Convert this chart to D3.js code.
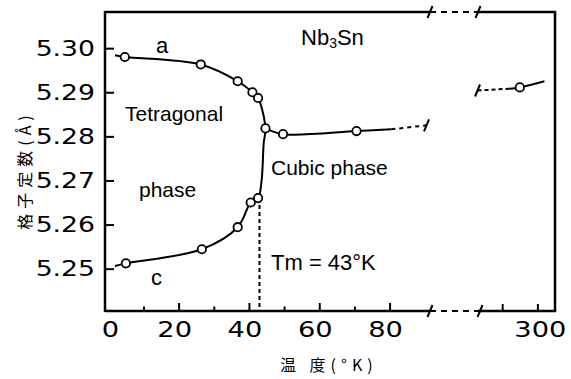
<!DOCTYPE html>
<html><head><meta charset="utf-8">
<script src="https://cdn.jsdelivr.net/npm/d3@7"></script>
<style>html,body{margin:0;padding:0;background:#fff;}</style>
</head><body>
<svg id="chart" width="571" height="379"></svg>
<script>
// Lattice constants of Nb3Sn versus temperature (°K)
const aPoints = [[4.7, 5.2980], [26.3, 5.2963], [36.8, 5.2925], [41.0, 5.2900], [42.6, 5.2887]];
const cPoints = [[5.0, 5.2512], [26.6, 5.2544], [36.8, 5.2594], [40.5, 5.2650], [42.6, 5.2660]];
const cubicPoints = [[44.7, 5.2818], [49.7, 5.2805], [70.6, 5.2812]];
const roomPoints = [[295, 5.2911]];

// guide-curve values (ends of the drawn curves)
const aStart = [1.9, 5.2984];
const cStart = [1.9, 5.2506];
const boundary = [[44.2, 5.2785], [43.6, 5.2700]];
const cubicEnd = [80.5, 5.2816];
const cubicExtrap = [90.5, 5.2825];
const roomLine = [[292, 5.2908], [295, 5.2911], [302, 5.2925]];
const roomExtrap = [283, 5.2904];
const Tm = 43;

const yTicks = [5.25, 5.26, 5.27, 5.28, 5.29, 5.30];
const xMajorLow = [20, 40, 60, 80];
const xMinorLow = [10, 30, 50, 70];
const xLabelsLow = [0, 20, 40, 60, 80];
const xTicksHigh = [290, 300];
const xLabelsHigh = [300];

const svg = d3.select("#chart");
const pLeft = 105, pRight = 555, pTop = 12, pBottom = 311, breakL = 430, breakR = 480;

const x1 = d3.scaleLinear().domain([-1, 91.5]).range([104.8, breakL]);
const x2 = d3.scaleLinear().domain([283.7, 305]).range([breakR, pRight]);
const y = d3.scaleLinear().domain([5.2404, 5.3082]).range([pBottom, pTop]);

const ink = "#000";
const numFont = "'DejaVu Sans', sans-serif";
const txtFont = "'Liberation Sans', Arial, sans-serif";
const cjkFont = "'Noto Sans CJK JP', sans-serif";

// frame with axis break
const frame = svg.append("g").attr("stroke", ink).attr("stroke-width", 2.5).attr("fill", "none");
frame.append("line").attr("x1", pLeft).attr("x2", pLeft).attr("y1", pTop - 1).attr("y2", pBottom + 1);
frame.append("line").attr("x1", pRight).attr("x2", pRight).attr("y1", pTop - 1).attr("y2", pBottom + 1);
[pTop, pBottom].forEach(yy => {
  frame.append("line").attr("x1", pLeft).attr("x2", breakL).attr("y1", yy).attr("y2", yy);
  frame.append("line").attr("x1", breakR - 2).attr("x2", pRight + 1).attr("y1", yy).attr("y2", yy);
  frame.append("line").attr("x1", breakL).attr("x2", breakR - 2).attr("y1", yy).attr("y2", yy)
    .attr("stroke-width", 2).attr("stroke-dasharray", "6,5");
});
function slash(g, px, py) {
  g.append("line").attr("x1", px - 2.5).attr("y1", py + 6).attr("x2", px + 2.5).attr("y2", py - 6)
    .attr("stroke", ink).attr("stroke-width", 2);
}
[[breakL, pTop], [breakR - 2, pTop], [breakL, pBottom], [breakR, pBottom]].forEach(p => slash(svg, p[0], p[1]));

// y ticks (inward)
const yAxis = svg.append("g").attr("transform", `translate(${pLeft},0)`)
  .call(d3.axisLeft(y).tickValues(yTicks).tickSize(-9).tickFormat(""));
yAxis.select(".domain").remove();
yAxis.selectAll("line").attr("stroke", ink).attr("stroke-width", 2);

// x ticks (inward)
function xTicks(scale, vals, len) {
  const g = svg.append("g").attr("transform", `translate(0,${pBottom})`)
    .call(d3.axisBottom(scale).tickValues(vals).tickSize(-len).tickFormat(""));
  g.select(".domain").remove();
  g.selectAll("line").attr("stroke", ink).attr("stroke-width", 2);
}
xTicks(x1, xMajorLow, 8);
xTicks(x1, xMinorLow, 4.5);
xTicks(x2, xTicksHigh, 7);

// tick labels
svg.append("g").selectAll("text").data(yTicks).join("text")
  .attr("transform", d => `translate(95,${y(d) + 7.5}) scale(1.27,1)`)
  .attr("text-anchor", "end").attr("font-family", numFont).attr("font-size", 21).attr("fill", ink)
  .text(d => d.toFixed(2));
const xl = svg.append("g");
xl.selectAll("text.lo").data(xLabelsLow).join("text").attr("class", "lo")
  .attr("transform", d => `translate(${x1(d) + (d === 0 ? 2 : -4)},337) scale(1.3,1)`)
  .attr("text-anchor", "middle").attr("font-family", numFont).attr("font-size", 21).attr("fill", ink)
  .text(d => d);
xl.selectAll("text.hi").data(xLabelsHigh).join("text").attr("class", "hi")
  .attr("transform", d => `translate(${x2(d) + 3},337) scale(1.3,1)`)
  .attr("text-anchor", "middle").attr("font-family", numFont).attr("font-size", 21).attr("fill", ink)
  .text(d => d);

// axis titles
svg.append("text").attr("x", 280).attr("y", 371)
  .attr("font-family", cjkFont).attr("font-size", 16).attr("letter-spacing", 5).attr("fill", ink)
  .text("温 度(°K)");
svg.append("text").attr("transform", "translate(31,170) rotate(-90)")
  .attr("text-anchor", "middle").attr("font-family", cjkFont).attr("font-size", 16)
  .attr("letter-spacing", 5).attr("fill", ink).text("格子定数(Å)");

// curves
const lineLo = d3.line().x(d => x1(d[0])).y(d => y(d[1])).curve(d3.curveCatmullRom.alpha(0.5));
const lineHi = d3.line().x(d => x2(d[0])).y(d => y(d[1])).curve(d3.curveCatmullRom.alpha(0.5));
const curveStyle = s => s.attr("fill", "none").attr("stroke", ink).attr("stroke-width", 2);

const phaseCurve = [aStart, ...aPoints, cubicPoints[0], ...boundary, ...cPoints.slice().reverse(), cStart];
svg.append("path").attr("d", lineLo(phaseCurve)).call(curveStyle);
svg.append("path").attr("d", lineLo([...cubicPoints, cubicEnd])).call(curveStyle);
svg.append("path").attr("d", d3.line()([[x1(cubicEnd[0]), y(cubicEnd[1])], [x1(cubicExtrap[0]), y(cubicExtrap[1])]]))
  .call(curveStyle).attr("stroke-dasharray", "4,4");
slash(svg, x1(cubicExtrap[0]), y(cubicExtrap[1]));

svg.append("path").attr("d", lineHi(roomLine)).call(curveStyle);
svg.append("path").attr("d", d3.line()([[x2(roomExtrap[0]), y(roomExtrap[1])], [x2(roomLine[0][0]), y(roomLine[0][1])]]))
  .call(curveStyle).attr("stroke-dasharray", "4,3");
slash(svg, x2(roomExtrap[0]), y(roomExtrap[1]));

// transition temperature
svg.append("line").attr("x1", x1(Tm)).attr("x2", x1(Tm)).attr("y1", y(cPoints[4][1])).attr("y2", pBottom)
  .attr("stroke", ink).attr("stroke-width", 2).attr("stroke-dasharray", "4,3");

// measured points
const circ = (data, sx) => svg.append("g").selectAll("circle").data(data).join("circle")
  .attr("cx", d => sx(d[0])).attr("cy", d => y(d[1])).attr("r", 4.2)
  .attr("fill", "#fff").attr("stroke", ink).attr("stroke-width", 1.8);
circ(aPoints, x1); circ(cPoints, x1); circ(cubicPoints, x1); circ(roomPoints, x2);

// annotations
const ann = (t, px, py, size) => svg.append("text").attr("x", px).attr("y", py)
  .attr("font-family", txtFont).attr("font-size", size || 21).attr("fill", ink).text(t);
ann("a", 156, 53, 22);
ann("Tetragonal", 125, 121);
ann("phase", 139, 197);
ann("c", 151, 285, 22);
ann("Cubic  phase", 271, 175, 21);
ann("Tm = 43°K", 271, 270, 22);
const nb = svg.append("text").attr("x", 301).attr("y", 45).attr("font-family", txtFont)
  .attr("font-size", 22).attr("fill", ink);
nb.append("tspan").text("Nb");
nb.append("tspan").attr("font-size", 14).attr("dy", 3).text("3");
nb.append("tspan").attr("dy", -3).text("Sn");
</script>
</body></html>
